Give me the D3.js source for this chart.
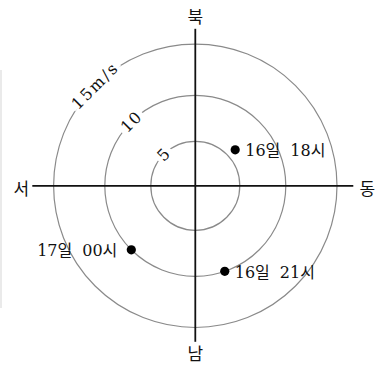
<!DOCTYPE html>
<html>
<head>
<meta charset="utf-8">
<script src="https://cdn.jsdelivr.net/npm/d3@7"></script>
<style>
  html, body { margin: 0; padding: 0; background: #fff; }
  svg { display: block; }
</style>
</head>
<body>
<svg id="chart" width="389" height="366"></svg>
<script>
// Wind observations: time label, speed (m/s), direction the vector points (degrees clockwise from north)
const times = ["16일 18시", "16일 21시", "17일 00시"];
const speeds = [6, 10, 10];
const directions = [48, 161, 225];

// Speed rings and their labels
const ringValues = [5, 10, 15];
const ringLabels = ["5", "10", "15m/s"];

// Compass labels, clockwise from north
const compassLabels = ["북", "동", "남", "서"];
const compassAngles = [0, 90, 180, 270];

const svg = d3.select("#chart");
const cx = 195.3, cy = 185.8;

const r = d3.scaleLinear().domain([0, 5, 10, 15]).range([0, 44.5, 90.5, 141.7]);
const ang = d3.scaleLinear().domain([0, 360]).range([0, 2 * Math.PI]);

const serif = "'DejaVu Serif', 'Noto Sans CJK KR', serif";

// faint frame edge on the left
svg.append("line")
  .attr("x1", 1).attr("x2", 1).attr("y1", 70).attr("y2", 308)
  .attr("stroke", "#dcdcdc").attr("stroke-width", 1.2);

const g = svg.append("g").attr("transform", `translate(${cx},${cy})`);

// speed rings
g.selectAll("circle.ring")
  .data(ringValues)
  .join("circle")
  .attr("class", "ring")
  .attr("r", d => r(d))
  .attr("fill", "none")
  .attr("stroke", "#8a8a8a")
  .attr("stroke-width", 1.2);

// axes
const axisLen = { 0: 157, 90: 158, 180: 156, 270: 163 };
g.selectAll("line.axis")
  .data(compassAngles)
  .join("line")
  .attr("class", "axis")
  .attr("x1", 0).attr("y1", 0)
  .attr("x2", d => Math.sin(ang(d)) * axisLen[d])
  .attr("y2", d => -Math.cos(ang(d)) * axisLen[d])
  .attr("stroke", "#111")
  .attr("stroke-width", 1.8);

// compass labels
const labelDist = { 0: 172, 90: 172, 180: 165, 270: 174 };
g.selectAll("text.compass")
  .data(compassLabels)
  .join("text")
  .attr("class", "compass")
  .attr("x", (d, i) => Math.sin(ang(compassAngles[i])) * labelDist[compassAngles[i]])
  .attr("y", (d, i) => -Math.cos(ang(compassAngles[i])) * labelDist[compassAngles[i]] + 2)
  .attr("text-anchor", "middle")
  .attr("dominant-baseline", "central")
  .attr("font-family", "'Noto Sans CJK KR', sans-serif")
  .attr("font-size", 17)
  .attr("fill", "#111")
  .text(d => d);

// ring labels along the north-west diagonal, with a gap in the ring
const ringLabelAngle = 315;
const rl = g.selectAll("g.ringlabel")
  .data(ringValues)
  .join("g")
  .attr("class", "ringlabel")
  .attr("transform", d => {
    const x = Math.sin(ang(ringLabelAngle)) * r(d);
    const y = -Math.cos(ang(ringLabelAngle)) * r(d);
    return `translate(${x},${y}) rotate(-45)`;
  });

rl.append("text")
  .attr("text-anchor", "middle")
  .attr("dominant-baseline", "central")
  .attr("font-family", serif)
  .attr("font-size", 16)
  .attr("letter-spacing", (d, i) => i === 2 ? 2 : 1)
  .attr("fill", "#111")
  .text((d, i) => ringLabels[i]);

rl.each(function() {
  const grp = d3.select(this);
  const bb = grp.select("text").node().getBBox();
  grp.insert("rect", "text")
    .attr("x", bb.x - 3).attr("y", -4)
    .attr("width", bb.width + 6).attr("height", 8)
    .attr("fill", "#fff");
});

// observation points
const pts = times.map((t, i) => ({
  t,
  x: Math.sin(ang(directions[i])) * r(speeds[i]),
  y: -Math.cos(ang(directions[i])) * r(speeds[i])
}));

g.selectAll("circle.pt")
  .data(pts)
  .join("circle")
  .attr("class", "pt")
  .attr("cx", d => d.x)
  .attr("cy", d => d.y)
  .attr("r", 4.6)
  .attr("fill", "#000");

const lbl = g.selectAll("text.pt")
  .data(pts)
  .join("text")
  .attr("class", "pt")
  .attr("x", d => d.x < 0 ? d.x - 14 : d.x + 10)
  .attr("y", d => d.y + 6.5)
  .attr("text-anchor", d => d.x < 0 ? "end" : "start")
  .attr("font-family", serif)
  .attr("font-size", 16)
  .attr("fill", "#111");

lbl.each(function(d) {
  const parts = d.t.split(" ");
  const el = d3.select(this);
  el.append("tspan").text(parts[0]);
  el.append("tspan").attr("dx", 10).text(parts[1]);
});
</script>
</body>
</html>
